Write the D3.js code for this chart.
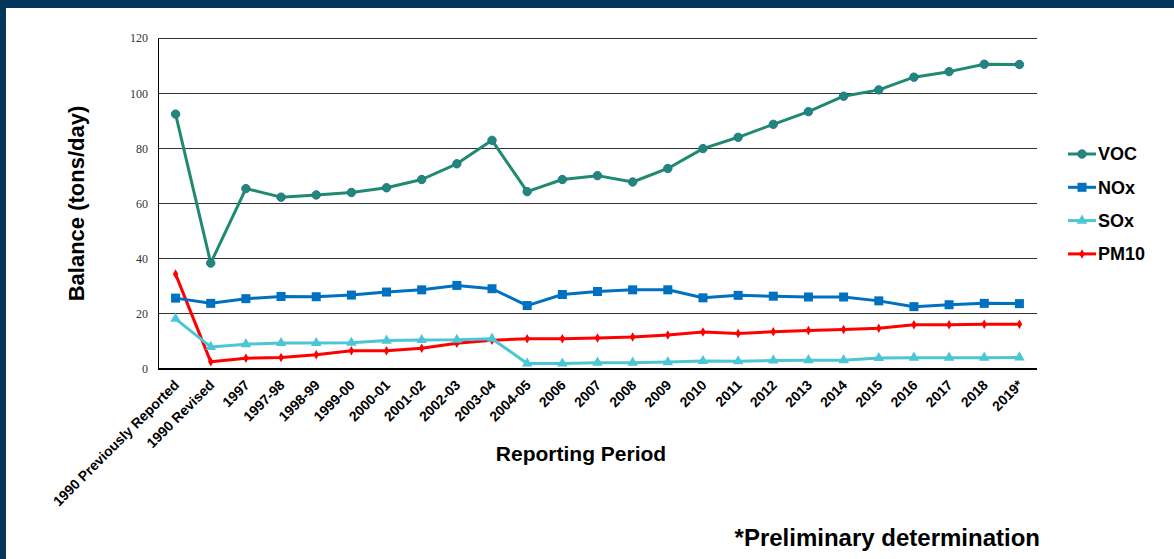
<!DOCTYPE html>
<html>
<head>
<meta charset="utf-8">
<script src="https://cdn.jsdelivr.net/npm/d3@7"></script>
<style>
  html, body { margin: 0; padding: 0; background: #fff; }
  svg { display: block; }
</style>
</head>
<body>
<svg id="chart" width="1174" height="559"></svg>
<script>
/* ── Data ──────────────────────────────────────────────────────────────── */
const periods = [
  '1990 Previously Reported', '1990 Revised', '1997', '1997-98', '1998-99',
  '1999-00', '2000-01', '2001-02', '2002-03', '2003-04', '2004-05', '2006',
  '2007', '2008', '2009', '2010', '2011', '2012', '2013', '2014', '2015',
  '2016', '2017', '2018', '2019*'
];
const voc  = [92.4, 38.4, 65.4, 62.3, 63.1, 64.0, 65.7, 68.7, 74.4, 82.9, 64.3, 68.7,
              70.1, 67.8, 72.7, 79.9, 84.0, 88.7, 93.3, 98.9, 101.2, 105.8, 107.8, 110.5, 110.4];
const nox  = [25.7, 23.8, 25.5, 26.3, 26.2, 26.8, 27.9, 28.7, 30.3, 29.1, 23.0, 27.0,
              28.1, 28.7, 28.7, 25.8, 26.7, 26.4, 26.1, 26.1, 24.7, 22.6, 23.3, 23.8, 23.7];
const sox  = [18.2, 8.0, 9.0, 9.4, 9.4, 9.5, 10.3, 10.5, 10.6, 11.0, 2.0, 2.0,
              2.3, 2.3, 2.5, 2.9, 2.8, 3.1, 3.2, 3.2, 4.0, 4.1, 4.1, 4.1, 4.2];
const pm10 = [34.4, 2.6, 3.9, 4.2, 5.2, 6.6, 6.6, 7.5, 9.3, 10.4, 11.0, 11.0,
              11.2, 11.6, 12.3, 13.4, 12.9, 13.5, 14.0, 14.3, 14.8, 16.0, 16.0, 16.2, 16.2];
const yTicks = [0, 20, 40, 60, 80, 100, 120];

const series = [
  { name: 'VOC',  values: voc,  color: '#1f8a70', marker: 'circle' },
  { name: 'NOx',  values: nox,  color: '#0070c0', marker: 'square' },
  { name: 'SOx',  values: sox,  color: '#4bc6d6', marker: 'triangle' },
  { name: 'PM10', values: pm10, color: '#ff0000', marker: 'diamond' },
];

/* ── Layout ────────────────────────────────────────────────────────────── */
const W = 1174, H = 559;
const plot = { left: 158, right: 1037, top: 38, bottom: 369 };
const svg = d3.select('#chart');

// dark frame at top and left
svg.append('rect').attr('x', 0).attr('y', 0).attr('width', W).attr('height', 8).attr('fill', '#04355a');
svg.append('rect').attr('x', 0).attr('y', 0).attr('width', 6).attr('height', H).attr('fill', '#04355a');

const x = d3.scalePoint().domain(periods).range([plot.left, plot.right]).padding(0.5);
const y = d3.scaleLinear().domain([0, 120]).range([plot.bottom, plot.top]);

// gridlines
svg.append('g')
  .selectAll('line')
  .data(yTicks.filter(t => t > 0))
  .join('line')
    .attr('x1', plot.left).attr('x2', plot.right)
    .attr('y1', t => y(t)).attr('y2', t => y(t))
    .attr('stroke', '#333').attr('stroke-width', 1)
    .attr('shape-rendering', 'crispEdges');

// y axis
const yAxis = svg.append('g')
  .attr('transform', `translate(${plot.left},0)`)
  .call(d3.axisLeft(y).tickValues(yTicks).tickSize(0).tickPadding(10));
yAxis.select('.domain').attr('stroke', '#000').attr('shape-rendering', 'crispEdges');
yAxis.selectAll('text')
  .style('font-family', '"Liberation Serif", "Times New Roman", serif')
  .style('font-size', '12px')
  .style('fill', '#333');

// x axis
const xAxis = svg.append('g')
  .attr('transform', `translate(0,${plot.bottom})`)
  .call(d3.axisBottom(x).tickSize(0).tickSizeOuter(0));
xAxis.select('.domain')
  .attr('d', `M${plot.left},0H${plot.right}`)
  .attr('stroke', '#000').attr('stroke-width', 1.2).attr('shape-rendering', 'crispEdges');
xAxis.selectAll('text')
  .attr('x', 0).attr('y', 0).attr('dy', null)
  .attr('transform', 'translate(4,17) rotate(-45)')
  .style('text-anchor', 'end')
  .style('font-family', '"Liberation Sans", Arial, sans-serif')
  .style('font-weight', 'bold')
  .style('font-size', '14px')
  .style('fill', '#000');

/* ── Lines and markers ─────────────────────────────────────────────────── */
const line = d3.line().x((d, i) => x(periods[i])).y(d => y(d));

function drawMarker(g, kind, color) {
  if (kind === 'circle') {
    g.append('circle').attr('r', 4.2).attr('fill', color).attr('stroke', '#2a6fa8').attr('stroke-width', 1);
  } else if (kind === 'square') {
    g.append('rect').attr('x', -4.5).attr('y', -4.5).attr('width', 9).attr('height', 9).attr('fill', color);
  } else if (kind === 'triangle') {
    g.append('path').attr('d', d3.symbol(d3.symbolTriangle, 48)()).attr('fill', color);
  } else {
    g.append('path').attr('d', d3.symbol(d3.symbolDiamond, 26)()).attr('fill', color);
  }
}

// draw order: PM10, SOx, NOx, VOC on top
[...series].reverse().forEach(s => {
  svg.append('path')
    .datum(s.values)
    .attr('d', line)
    .attr('fill', 'none')
    .attr('stroke', s.color)
    .attr('stroke-width', 3)
    .attr('stroke-linejoin', 'round');

  svg.append('g')
    .selectAll('g')
    .data(s.values)
    .join('g')
      .attr('transform', (d, i) => `translate(${x(periods[i])},${y(d)})`)
      .each(function() { drawMarker(d3.select(this), s.marker, s.color); });
});

/* ── Legend ────────────────────────────────────────────────────────────── */
const legend = svg.append('g').attr('transform', 'translate(1068,154)');
series.forEach((s, i) => {
  const row = legend.append('g').attr('transform', `translate(0,${i * 33.3})`);
  row.append('line').attr('x1', 0).attr('x2', 28).attr('y1', 0).attr('y2', 0)
    .attr('stroke', s.color).attr('stroke-width', 3);
  drawMarker(row.append('g').attr('transform', 'translate(14,0)'), s.marker, s.color);
  row.append('text')
    .attr('x', 30).attr('y', 0).attr('dy', '0.36em')
    .style('font-family', '"Liberation Sans", Arial, sans-serif')
    .style('font-weight', 'bold')
    .style('font-size', '18px')
    .text(s.name);
});

/* ── Titles ────────────────────────────────────────────────────────────── */
svg.append('text')
  .attr('transform', `translate(84,${(plot.top + plot.bottom) / 2}) rotate(-90)`)
  .attr('text-anchor', 'middle')
  .style('font-family', '"Liberation Sans", Arial, sans-serif')
  .style('font-weight', 'bold')
  .style('font-size', '22px')
  .text('Balance (tons/day)');

svg.append('text')
  .attr('x', 581).attr('y', 461)
  .attr('text-anchor', 'middle')
  .style('font-family', '"Liberation Sans", Arial, sans-serif')
  .style('font-weight', 'bold')
  .style('font-size', '21px')
  .text('Reporting Period');

svg.append('text')
  .attr('x', 1040).attr('y', 546)
  .attr('text-anchor', 'end')
  .style('font-family', '"Liberation Sans", Arial, sans-serif')
  .style('font-weight', 'bold')
  .style('font-size', '24px')
  .text('*Preliminary determination');
</script>
</body>
</html>
